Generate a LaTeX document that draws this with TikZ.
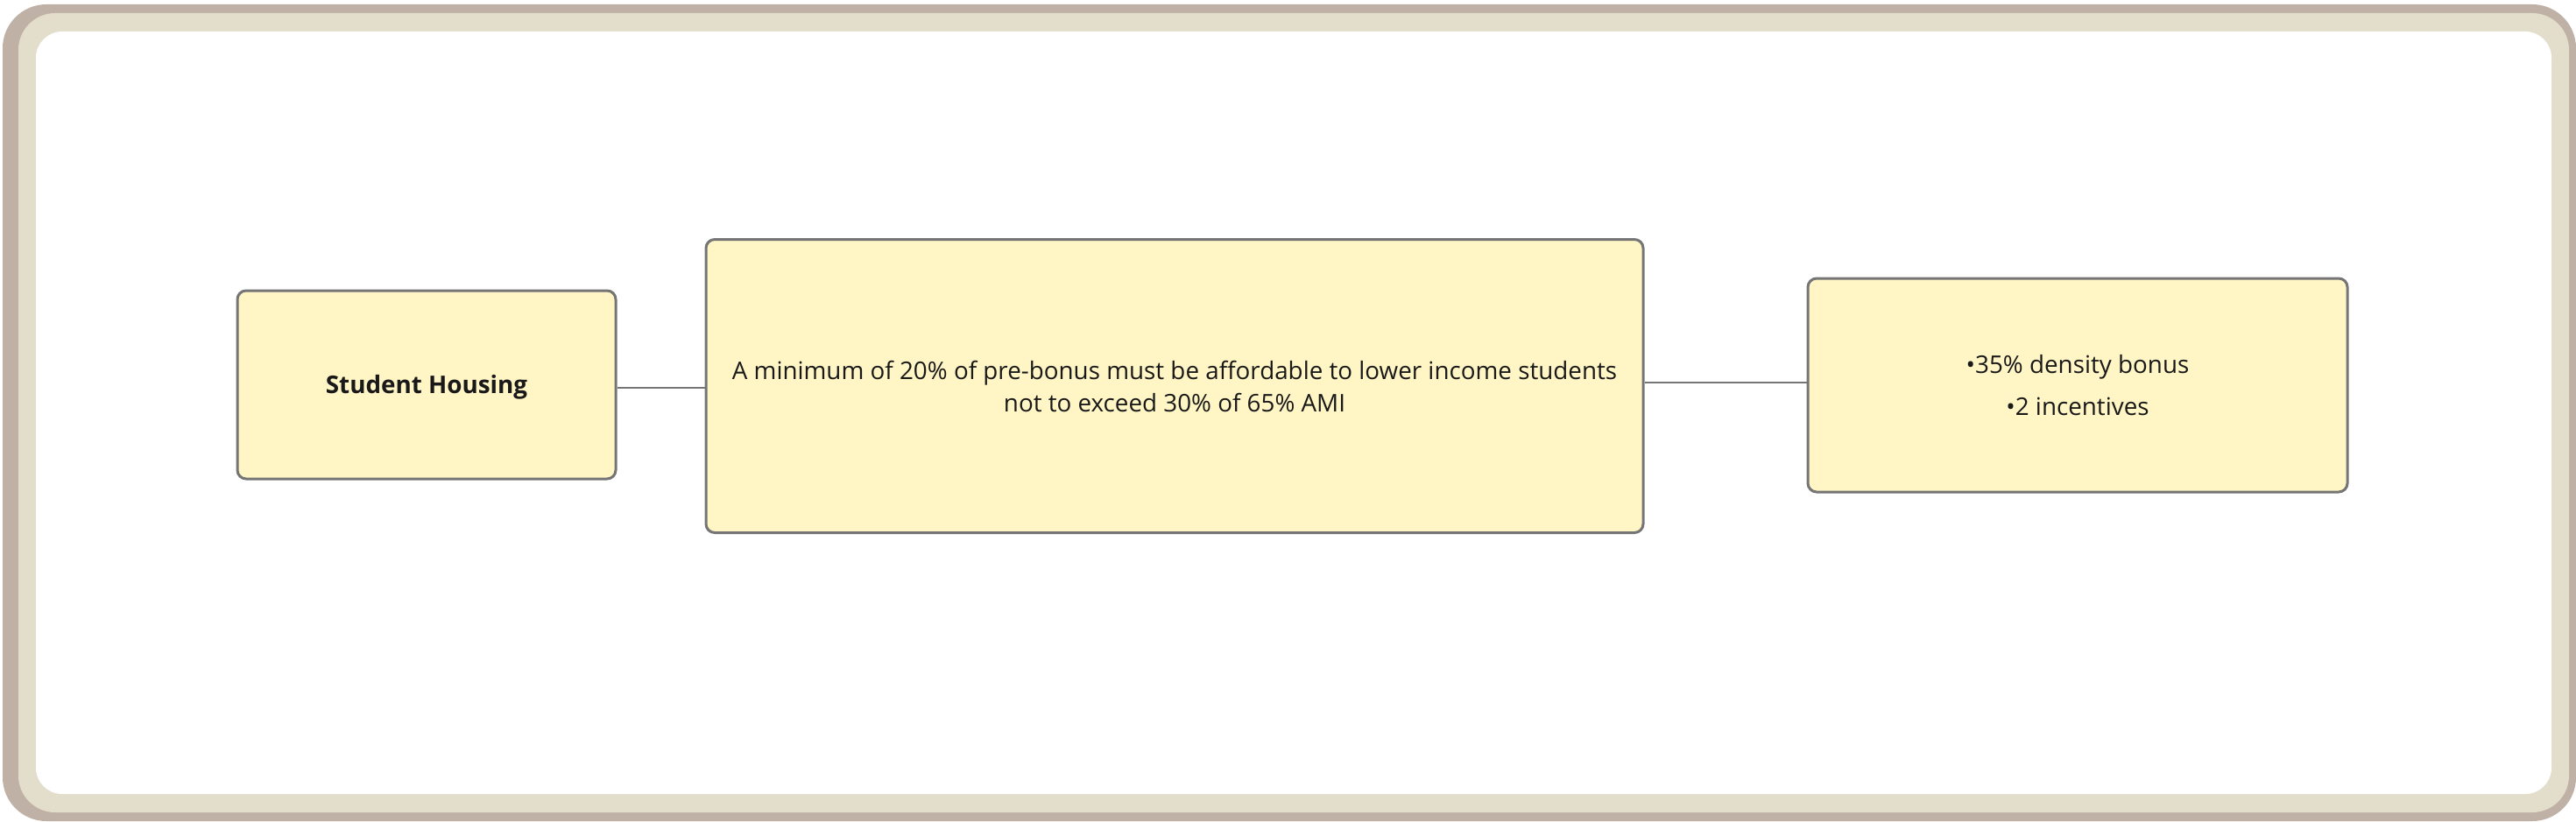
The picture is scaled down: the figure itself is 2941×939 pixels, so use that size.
\documentclass[tikz,border=0pt]{standalone}
\usepackage{fontspec}
\setmainfont{Open Sans}
\definecolor{frameout}{HTML}{BFB1A5}
\definecolor{framein}{HTML}{E3DDCB}
\definecolor{boxfill}{HTML}{FFF5C5}
\definecolor{boxline}{HTML}{757575}
\begin{document}
\begin{tikzpicture}[x=1pt,y=-1pt,
  box/.style={draw=boxline, line width=3pt, fill=boxfill, rounded corners=10pt,
    align=center, inner sep=0pt, text=black!90},
  link/.style={draw=boxline, line width=2.6pt}]
\useasboundingbox (0,0) rectangle (2941,939);
\fill[white] (0,0) rectangle (2941,939);
\fill[frameout, rounded corners=50pt] (3,5) rectangle (2941,938);
\fill[framein, rounded corners=42pt] (21,15) rectangle (2933,928);
\fill[white, rounded corners=30pt] (41,36) rectangle (2913,907);

\node[box, minimum width=432pt, minimum height=215pt, text height=27pt, text depth=7pt,
  font=\fontsize{27.8}{37}\selectfont\bfseries] (s) at (487,439.5) {Student Housing};
\node[box, minimum width=1070pt, minimum height=335pt,
  font=\fontsize{27.8}{37}\selectfont] (m) at (1341,441)
  {A minimum of 20\% of pre-bonus must be affordable to lower income students\\not to exceed 30\% of 65\% AMI};
\node[box, minimum width=616pt, minimum height=244pt,
  font=\fontsize{27.8}{48}\selectfont] (r) at (2372,440)
  {•35\% density bonus\\•2 incentives};

\coordinate (sout) at ([yshift=-3.5pt]s.east);
\coordinate (rin) at ([yshift=3pt]r.west);
\draw[link] (sout) -- (m.west |- sout);
\draw[link] (m.east |- rin) -- (rin);
\end{tikzpicture}
\end{document}
